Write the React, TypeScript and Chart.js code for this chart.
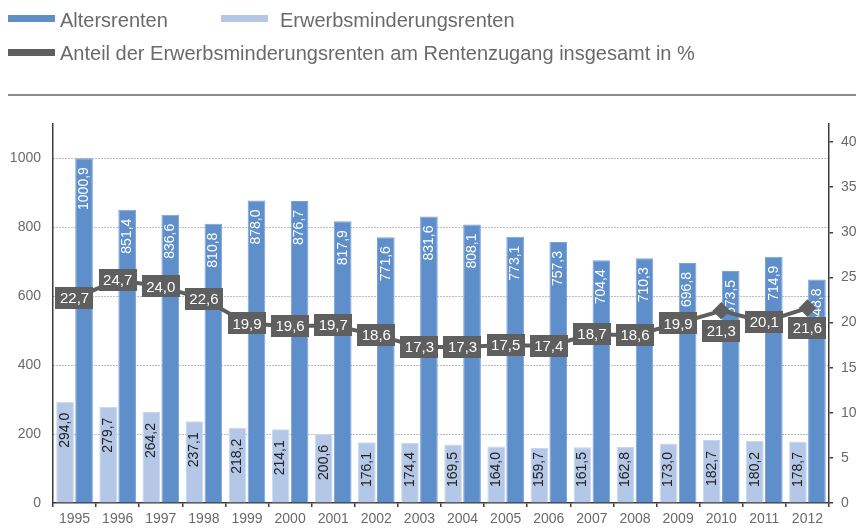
import React, { useEffect, useRef } from 'react';
import { Chart, registerables } from 'chart.js';

Chart.register(...registerables);

const years = ['1995', '1996', '1997', '1998', '1999', '2000', '2001', '2002', '2003', '2004', '2005', '2006', '2007', '2008', '2009', '2010', '2011', '2012'];
const altersrenten = [1000.9, 851.4, 836.6, 810.8, 878.0, 876.7, 817.9, 771.6, 831.6, 808.1, 773.1, 757.3, 704.4, 710.3, 696.8, 673.5, 714.9, 648.8];
const erwerbsminderungsrenten = [294.0, 279.7, 264.2, 237.1, 218.2, 214.1, 200.6, 176.1, 174.4, 169.5, 164.0, 159.7, 161.5, 162.8, 173.0, 182.7, 180.2, 178.7];
const anteilProzent = [22.7, 24.7, 24.0, 22.6, 19.9, 19.6, 19.7, 18.6, 17.3, 17.3, 17.5, 17.4, 18.7, 18.6, 19.9, 21.3, 20.1, 21.6];

const legendLabels = ['Altersrenten', 'Erwerbsminderungsrenten', 'Anteil der Erwerbsminderungsrenten am Rentenzugang insgesamt in %'];

const FONT = "'Liberation Sans', Arial, Helvetica, sans-serif";
const DARK_BLUE = '#5f8fcb';
const LIGHT_BLUE = '#b4c7e7';
const GREY = '#5f5f5f';
const TEXT = '#6a6a6a';
const AXIS = '#3c3c3c';

const fmt = (v: number) => v.toFixed(1).replace('.', ',');
const labelsBelow = new Set([15, 17]);

const labelPlugin = {
  id: 'valueLabels',
  afterDatasetDraw(chart: any, args: any) {
    const idx = args.index;
    if (idx === 0) return;
    const { ctx, chartArea } = chart;
    const ds = chart.data.datasets[idx];
    ctx.save();
    ctx.font = `14px ${FONT}`;
    args.meta.data.forEach((el: any, i: number) => {
      const text = fmt(ds.data[i]);
      const w = ctx.measureText(text).width;
      let top = el.y + (idx === 2 ? 9 : 11);
      if (idx === 1) top = Math.min(top, chartArea.bottom - 16 - w);
      ctx.save();
      ctx.translate(el.x, top);
      ctx.rotate(-Math.PI / 2);
      ctx.textAlign = 'right';
      ctx.textBaseline = 'middle';
      ctx.fillStyle = idx === 2 ? '#ffffff' : '#222222';
      ctx.fillText(text, 0, 0);
      ctx.restore();
    });
    ctx.restore();
  },
  afterDatasetsDraw(chart: any) {
    const { ctx } = chart;
    const meta = chart.getDatasetMeta(0);
    const ds = chart.data.datasets[0];
    ctx.save();
    ctx.font = `15px ${FONT}`;
    ctx.textAlign = 'center';
    ctx.textBaseline = 'middle';
    meta.data.forEach((el: any, i: number) => {
      const text = fmt(ds.data[i]);
      const w = ctx.measureText(text).width + 9;
      const h = 22;
      const cy = labelsBelow.has(i) ? el.y + 20 : el.y;
      ctx.fillStyle = GREY;
      ctx.fillRect(Math.round(el.x - w / 2), Math.round(cy - h / 2), Math.round(w), h);
      ctx.fillStyle = '#ffffff';
      ctx.fillText(text, el.x, cy + 1);
    });
    ctx.restore();
  },
};

export default function App() {
  const ref = useRef<HTMLCanvasElement | null>(null);

  useEffect(() => {
    if (!ref.current) return;
    const chart = new Chart(ref.current, {
      type: 'bar',
      data: {
        labels: years,
        datasets: [
          {
            type: 'line',
            label: legendLabels[2],
            data: anteilProzent,
            yAxisID: 'y2',
            borderColor: GREY,
            backgroundColor: GREY,
            borderWidth: 4,
            pointStyle: 'rectRot',
            pointRadius: 6,
            pointBackgroundColor: GREY,
            pointBorderColor: GREY,
            tension: 0,
            order: 0,
          } as any,
          {
            type: 'bar',
            label: legendLabels[1],
            data: erwerbsminderungsrenten,
            yAxisID: 'y',
            backgroundColor: LIGHT_BLUE,
            borderColor: '#c9d7ee',
            borderWidth: 1,
            categoryPercentage: 0.88,
            barPercentage: 0.93,
            order: 1,
          },
          {
            type: 'bar',
            label: legendLabels[0],
            data: altersrenten,
            yAxisID: 'y',
            backgroundColor: DARK_BLUE,
            borderColor: '#7aa2d6',
            borderWidth: 1,
            categoryPercentage: 0.88,
            barPercentage: 0.93,
            order: 2,
          },
        ],
      },
      options: {
        animation: false,
        responsive: false,
        maintainAspectRatio: false,
        layout: { padding: { top: 124, left: 0, right: 0, bottom: 0 } },
        plugins: { legend: { display: false }, tooltip: { enabled: false } },
        scales: {
          x: {
            offset: true,
            grid: { offset: true, drawOnChartArea: false, drawTicks: true, tickLength: 4, color: AXIS, lineWidth: 1.5 },
            border: { color: AXIS, width: 1.5 },
            ticks: { color: TEXT, font: { family: FONT, size: 14 }, padding: 4, maxRotation: 0, autoSkip: false },
            afterFit: (s: any) => { s.height = 28; },
          },
          y: {
            position: 'left',
            min: 0,
            max: 1100,
            ticks: {
              stepSize: 200,
              color: TEXT,
              font: { family: FONT, size: 14 },
              padding: 12,
              callback: (v: any) => String(v),
            },
            afterBuildTicks: (s: any) => { s.ticks = s.ticks.filter((t: any) => t.value <= 1000); },
            grid: {
              drawTicks: false,
              color: (c: any) => (c.tick && c.tick.value === 0 ? 'rgba(0,0,0,0)' : '#7a7a7a'),
              lineWidth: 1,
            },
            border: { color: AXIS, width: 1.5, dash: [1, 2] },
            afterFit: (s: any) => { s.width = 53; },
          },
          y2: {
            position: 'right',
            min: 0,
            max: 42,
            ticks: { stepSize: 5, color: TEXT, font: { family: FONT, size: 14 }, padding: 8, callback: (v: any) => String(v) },
            afterBuildTicks: (s: any) => { s.ticks = s.ticks.filter((t: any) => t.value <= 40); },
            grid: { drawOnChartArea: false, drawTicks: true, tickLength: 4, color: AXIS, lineWidth: 1.5 },
            border: { color: AXIS, width: 1.5 },
            afterFit: (s: any) => { s.width = 27; },
          },
        },
      },
      plugins: [labelPlugin],
    } as any);
    return () => chart.destroy();
  }, []);

  const textStyle: React.CSSProperties = {
    position: 'absolute',
    fontFamily: FONT,
    fontSize: 20,
    lineHeight: '20px',
    color: TEXT,
    whiteSpace: 'nowrap',
  };
  const swatch = (left: number, top: number, color: string): React.CSSProperties => ({
    position: 'absolute', left, top, width: 47, height: 7, background: color,
  });

  return (
    <div style={{ position: 'fixed', left: 0, top: 0, width: 856, height: 531, background: '#ffffff', overflow: 'hidden' }}>
      <canvas ref={ref} width={856} height={531} style={{ position: 'absolute', left: 0, top: 0, width: 856, height: 531 }} />
      <div style={swatch(8, 15, DARK_BLUE)} />
      <div style={{ ...textStyle, left: 60, top: 10 }}>{legendLabels[0]}</div>
      <div style={swatch(221, 15, LIGHT_BLUE)} />
      <div style={{ ...textStyle, left: 280, top: 10 }}>{legendLabels[1]}</div>
      <div style={swatch(8, 49, GREY)} />
      <div style={{ ...textStyle, left: 60, top: 43 }}>{legendLabels[2]}</div>
      <div style={{ position: 'absolute', left: 8, top: 94, width: 848, height: 2, background: '#8c8c8c' }} />
    </div>
  );
}
